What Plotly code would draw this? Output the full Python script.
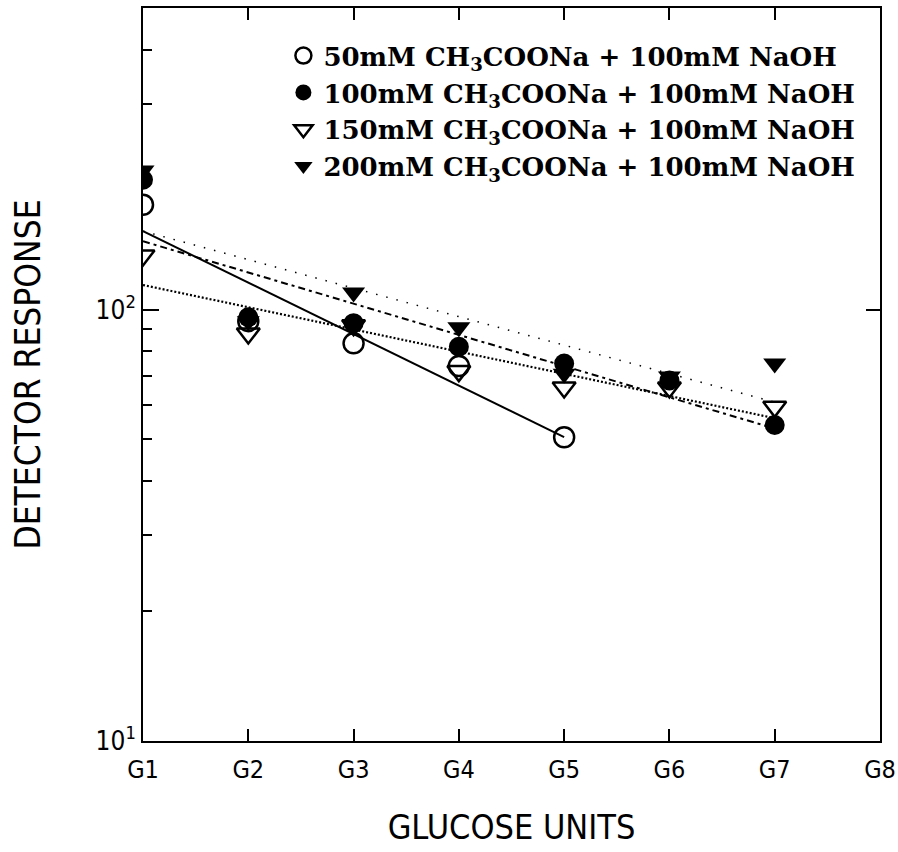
import plotly.graph_objects as go

# ---- data ----
tick_units = [1, 2, 3, 4, 5, 6, 7, 8]
tick_labels = ["G1", "G2", "G3", "G4", "G5", "G6", "G7", "G8"]

x_50 = [1, 2, 3, 4, 5]
y_50 = [175, 94, 83.5, 74, 50.6]

x_100 = [1, 2, 3, 4, 5, 6, 7]
y_100 = [200, 96, 93, 82, 75, 68.5, 54]

x_150 = [1, 2, 3, 4, 5, 6, 7]
y_150 = [133.5, 88, 92, 72, 66, 66, 59.5]

x_200 = [1, 2, 3, 4, 5, 6, 7]
y_200 = [210, 94, 109.5, 91, 71, 70, 75]

fit_50_x = [1, 5]
fit_50_y = [152, 50.6]
fit_100_x = [1, 7]
fit_100_y = [144, 53]
fit_150_x = [1, 7]
fit_150_y = [114, 56]
fit_200_x = [1, 7]
fit_200_y = [152, 61]

names = [
    "50mM CH<sub>3</sub>COONa + 100mM NaOH",
    "100mM CH<sub>3</sub>COONa + 100mM NaOH",
    "150mM CH<sub>3</sub>COONa + 100mM NaOH",
    "200mM CH<sub>3</sub>COONa + 100mM NaOH",
]

fig = go.Figure()

# fitted lines
fig.add_trace(go.Scatter(x=fit_50_x, y=fit_50_y, mode="lines", showlegend=False,
                         line=dict(color="black", width=2)))
fig.add_trace(go.Scatter(x=fit_100_x, y=fit_100_y, mode="lines", showlegend=False,
                         line=dict(color="black", width=2, dash="7px,4px,3px,4px")))
fig.add_trace(go.Scatter(x=fit_150_x, y=fit_150_y, mode="lines", showlegend=False,
                         line=dict(color="black", width=2.2, dash="2px,2px")))
fig.add_trace(go.Scatter(x=fit_200_x, y=fit_200_y, mode="lines", showlegend=False,
                         line=dict(color="black", width=1.5, dash="1.5px,9px")))

msize = 20
fig.add_trace(go.Scatter(x=x_50, y=y_50, mode="markers", name=names[0], legendrank=1,
                         legendgroup="a",
                         marker=dict(symbol="circle-open", size=msize, color="black",
                                     line=dict(width=2.5, color="black"))))
fig.add_trace(go.Scatter(x=x_150, y=y_150, mode="markers", name=names[2], legendrank=3,
                         legendgroup="c",
                         marker=dict(symbol="triangle-down-open", size=msize, color="black",
                                     line=dict(width=2.5, color="black"))))
fig.add_trace(go.Scatter(x=x_100, y=y_100, mode="markers", name=names[1], legendrank=2,
                         legendgroup="b",
                         marker=dict(symbol="circle", size=msize, color="black",
                                     line=dict(width=0))))
fig.add_trace(go.Scatter(x=x_200, y=y_200, mode="markers", name=names[3], legendrank=4,
                         legendgroup="d",
                         marker=dict(symbol="triangle-down", size=msize, color="black",
                                     line=dict(width=0))))
# helper trace for right-hand axis
fig.add_trace(go.Scatter(x=[None], y=[None], yaxis="y2", showlegend=False, hoverinfo="skip"))

sans = "Liberation Sans Narrow, DejaVu Sans Condensed, Liberation Sans, sans-serif"

fig.update_layout(
    width=898, height=852,
    margin=dict(l=143, r=18, t=8, b=111, autoexpand=False),
    paper_bgcolor="white", plot_bgcolor="white",
    showlegend=True,
    legend=dict(x=0.1905, y=0.967, xanchor="left", yanchor="top",
                bgcolor="rgba(0,0,0,0)", tracegroupgap=0,
                font=dict(family="DejaVu Serif", size=26, color="black", weight="bold"),
                itemsizing="trace"),
    xaxis=dict(range=[1, 8], tickvals=tick_units, ticktext=tick_labels,
               ticks="inside", ticklen=12, tickwidth=1.5, tickcolor="black",
               showline=True, linecolor="black", linewidth=2, mirror="ticks",
               showgrid=False, zeroline=False, automargin=False,
               ticklabeloverflow="allow", ticklabelstandoff=5,
               tickfont=dict(family=sans, size=25, color="black"),
               title=dict(text="GLUCOSE UNITS", standoff=32,
                          font=dict(family=sans, size=34, color="black"))),
    yaxis=dict(type="log", range=[1, 2.699], tickvals=[10, 100],
               ticktext=["10<sup>1</sup>", "10<sup>2</sup>"],
               ticks="inside", ticklen=16, tickwidth=1.5, tickcolor="black",
               minor=dict(ticks="inside", ticklen=9, tickwidth=1.5, tickcolor="black",
                          tickvals=[20, 30, 40, 50, 60, 70, 80, 90, 200, 300, 400], showgrid=False),
               showline=True, linecolor="black", linewidth=2, mirror=True,
               showgrid=False, zeroline=False, automargin=False,
               tickfont=dict(family=sans, size=26, color="black"),
               title=dict(text="DETECTOR RESPONSE", standoff=44,
                          font=dict(family=sans, size=35, color="black"))),
    yaxis2=dict(type="log", range=[1, 2.699], overlaying="y", side="right",
                tickvals=[100], ticks="inside", ticklen=14, tickwidth=1.5, tickcolor="black",
                showticklabels=False, showline=False, showgrid=False, zeroline=False),
)

fig.write_html("out.html")
